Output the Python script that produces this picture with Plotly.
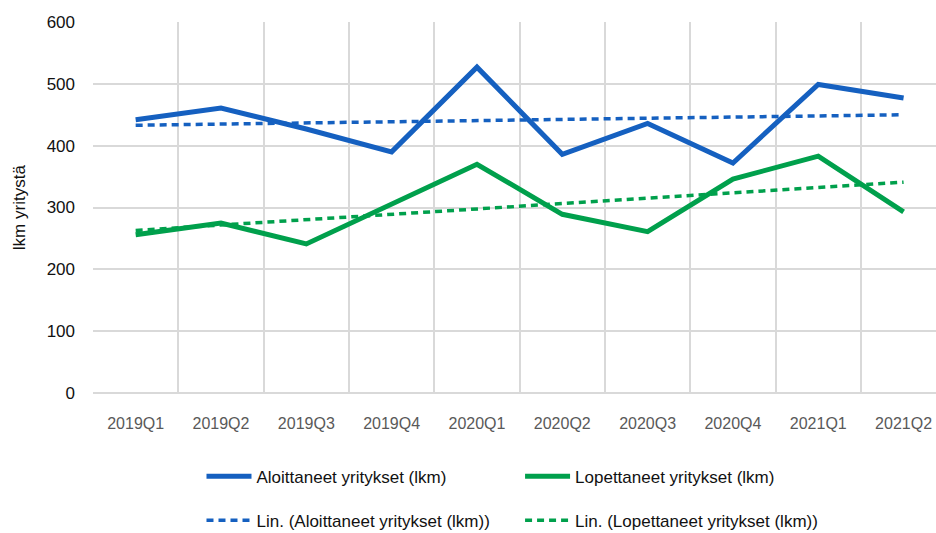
import plotly.graph_objects as go

categories = ["2019Q1", "2019Q2", "2019Q3", "2019Q4", "2020Q1",
              "2020Q2", "2020Q3", "2020Q4", "2021Q1", "2021Q2"]
aloittaneet = [442, 461, 427, 390, 527, 386, 436, 372, 499, 477]
lopettaneet = [256, 275, 241, 305, 370, 289, 261, 346, 383, 293]
trend_x = ["2019Q1", "2021Q2"]
trend_aloittaneet = [433, 450]
trend_lopettaneet = [263, 341]
y_ticks = [0, 100, 200, 300, 400, 500, 600]

BLUE = "#1560C0"
GREEN = "#00A04C"
FONT = "Liberation Sans, Arial, sans-serif"

fig = go.Figure()
fig.add_trace(go.Scatter(x=categories, y=aloittaneet, mode="lines",
                         name="Aloittaneet yritykset (lkm)", legend="legend",
                         legendgroup="a1",
                         line=dict(color=BLUE, width=5)))
fig.add_trace(go.Scatter(x=trend_x, y=trend_aloittaneet, mode="lines",
                         name="Lin. (Aloittaneet yritykset (lkm))", legend="legend",
                         legendgroup="a2",
                         line=dict(color=BLUE, width=3.5, dash="7px,5px")))
fig.add_trace(go.Scatter(x=categories, y=lopettaneet, mode="lines",
                         name="Lopettaneet yritykset (lkm)", legend="legend2",
                         legendgroup="l1",
                         line=dict(color=GREEN, width=5)))
fig.add_trace(go.Scatter(x=trend_x, y=trend_lopettaneet, mode="lines",
                         name="Lin. (Lopettaneet yritykset (lkm))", legend="legend2",
                         legendgroup="l2",
                         line=dict(color=GREEN, width=3.5, dash="7px,5px")))

legend_common = dict(
    orientation="v", yanchor="top", y=-0.177,
    font=dict(family=FONT, size=17, color="#111111"),
    tracegroupgap=19, bgcolor="rgba(0,0,0,0)", traceorder="grouped",
    itemwidth=45,
)

fig.update_layout(
    width=936, height=533,
    margin=dict(l=93, r=0, t=22, b=140, autoexpand=False),
    plot_bgcolor="white", paper_bgcolor="white",
    font=dict(family=FONT, size=16, color="#222222"),
    xaxis=dict(
        type="category",
        categoryorder="array", categoryarray=categories,
        range=[-0.5, 9.38],
        showgrid=True, gridcolor="#D9D9D9", gridwidth=1.5,
        tickson="boundaries", ticks="",
        tickfont=dict(size=16, color="#595959"),
        ticklabelstandoff=19,
        showline=False, zeroline=False, automargin=False,
    ),
    yaxis=dict(
        range=[0, 600], tickvals=y_ticks,
        showgrid=True, gridcolor="#D9D9D9", gridwidth=1.5,
        zeroline=True, zerolinecolor="#D9D9D9", zerolinewidth=1.5,
        tickfont=dict(size=17, color="#111111"),
        ticks="", ticklabelstandoff=17, automargin=False,
    ),
    legend=dict(x=0.1287, xanchor="left", **legend_common),
    legend2=dict(x=0.5066, xanchor="left", **legend_common),
    annotations=[dict(
        text="lkm yritystä", textangle=-90,
        xref="paper", yref="paper", x=-0.087, y=0.5,
        xanchor="center", yanchor="middle", showarrow=False,
        font=dict(family=FONT, size=17, color="#111111"),
    )],
    showlegend=True,
)

fig.write_html("out.html",
               config={"displayModeBar": False},
               post_script="document.body.style.margin='0';document.body.style.overflow='hidden';")
